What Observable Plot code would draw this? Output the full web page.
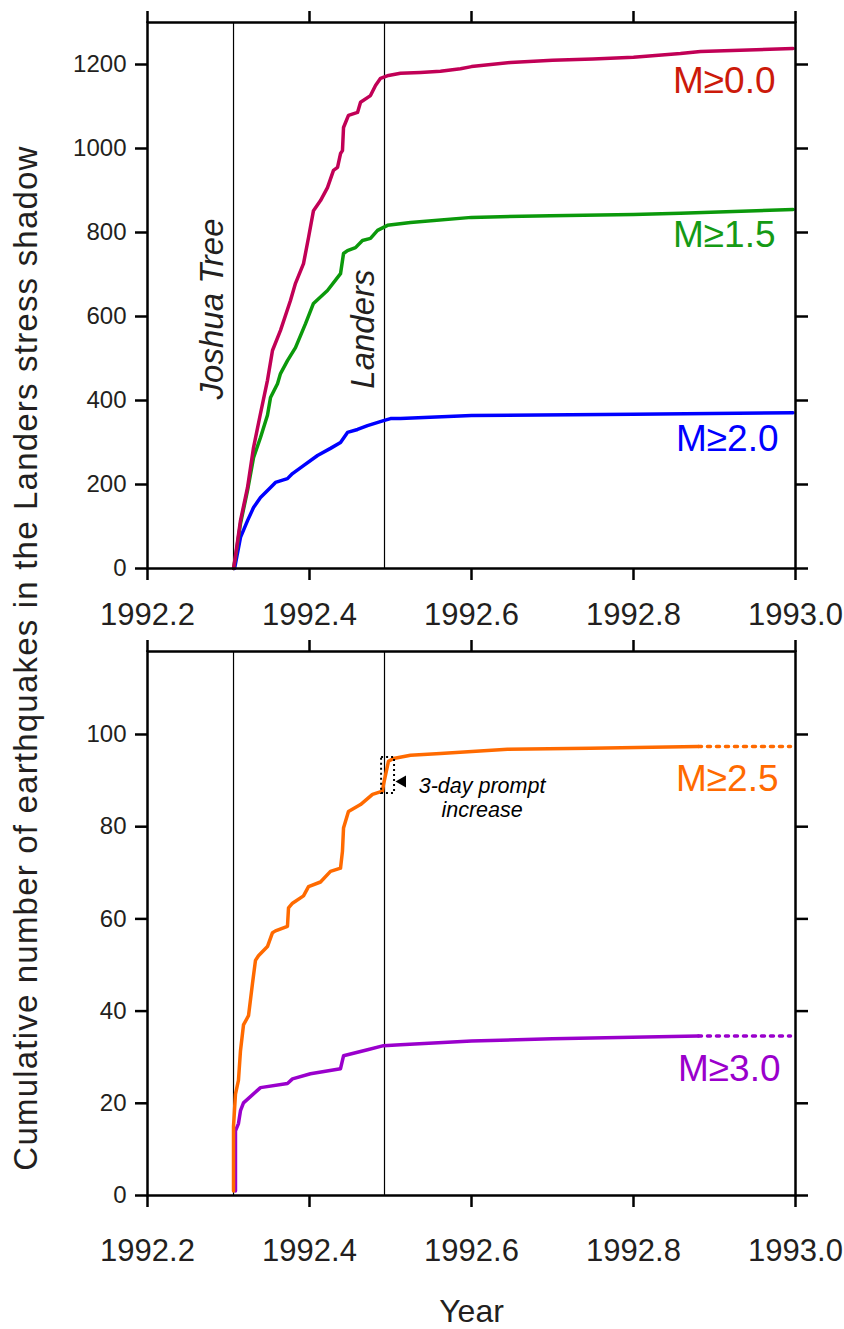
<!DOCTYPE html>
<html><head><meta charset="utf-8">
<script src="https://cdn.jsdelivr.net/npm/d3@7"></script>
<script src="https://cdn.jsdelivr.net/npm/@observablehq/plot@0.6"></script>
<style>
body{margin:0;background:#fff;font-family:"Liberation Sans",Arial,Helvetica,sans-serif;}
#wrap{position:relative;width:844px;height:1329px;overflow:hidden;}
#p1,#p2{display:block;}
#ylab{position:absolute;left:-524px;top:642px;width:1100px;height:32px;line-height:32px;font-size:33px;letter-spacing:1.2px;text-align:center;color:#231f20;transform:rotate(-90deg);white-space:nowrap;}
</style></head><body>
<div id="wrap"><div id="p1"></div><div id="p2"></div><div id="ylab">Cumulative number of earthquakes in the Landers stress shadow</div></div>
<script>
// ---- data ----
const xTicks = [1992.2, 1992.4, 1992.6, 1992.8, 1993.0];
const yTicksTop = [0, 200, 400, 600, 800, 1000, 1200];
const yTicksBottom = [0, 20, 40, 60, 80, 100];
const joshuaTree = 1992.3062;
const landers = 1992.4926;
const events = [joshuaTree, landers];
const eventNames = ["Joshua Tree", "Landers"];
const eventLabelY = [618, 570];

const m00 = [[1992.3062,0],[1992.3086,30],[1992.3148,114],[1992.3235,193],[1992.3309,288],[1992.3395,369],[1992.3481,448],[1992.3543,519],[1992.3642,567],[1992.3765,638],[1992.3827,679],[1992.3926,726],[1992.3988,788],[1992.4049,852],[1992.4136,876],[1992.4222,907],[1992.4296,948],[1992.4346,955],[1992.4383,988],[1992.4407,995],[1992.4420,1050],[1992.4481,1079],[1992.4593,1086],[1992.4630,1110],[1992.4753,1126],[1992.4815,1150],[1992.4877,1167],[1992.4975,1174],[1992.5123,1179],[1992.5370,1181],[1992.5617,1184],[1992.5864,1190],[1992.6,1195],[1992.6481,1205],[1992.7,1210],[1992.75,1213],[1992.8,1217],[1992.858,1226],[1992.8827,1231],[1992.997,1238]];
const m15 = [[1992.3062,0],[1992.3086,26],[1992.3148,107],[1992.3235,186],[1992.3309,264],[1992.3395,312],[1992.3481,365],[1992.3519,407],[1992.3605,440],[1992.3642,464],[1992.3728,495],[1992.3827,526],[1992.3951,583],[1992.4049,631],[1992.4222,662],[1992.4383,702],[1992.4420,750],[1992.4469,757],[1992.4568,764],[1992.4654,781],[1992.4753,786],[1992.4840,805],[1992.4963,817],[1992.5247,824],[1992.6,836],[1992.6975,840],[1992.8,843],[1992.858,846],[1992.997,855]];
const m20 = [[1992.3075,0],[1992.3148,74],[1992.3235,114],[1992.3309,145],[1992.3395,169],[1992.3519,193],[1992.3580,205],[1992.3728,214],[1992.3790,226],[1992.3926,245],[1992.4099,269],[1992.4259,286],[1992.4383,300],[1992.4469,324],[1992.4593,331],[1992.4716,340],[1992.4914,352],[1992.5000,357],[1992.5123,357],[1992.6,364],[1992.8,367],[1992.997,371]];
const m25 = [[1992.3062,1],[1992.3062,15],[1992.3086,22],[1992.3123,25],[1992.3148,31.4],[1992.3185,37],[1992.3247,39],[1992.3296,46],[1992.3333,51],[1992.3370,52],[1992.3481,54],[1992.3543,57],[1992.3580,57.4],[1992.3728,58.4],[1992.3741,62.4],[1992.3790,63.4],[1992.3926,65],[1992.3988,67],[1992.4136,68],[1992.4259,70.3],[1992.4383,71],[1992.4407,74.7],[1992.4420,79.7],[1992.4481,83.3],[1992.4630,84.8],[1992.4778,87],[1992.4901,87.7],[1992.4914,89.2],[1992.4975,94.2],[1992.5037,94.8],[1992.5247,95.5],[1992.5617,95.9],[1992.6444,96.8],[1992.7469,97],[1992.8802,97.4]];
const m30 = [[1992.3086,1],[1992.3086,14],[1992.3123,15.6],[1992.3148,18.4],[1992.3185,20.1],[1992.3395,23.4],[1992.3728,24.3],[1992.3790,25.3],[1992.4012,26.4],[1992.4383,27.5],[1992.4420,30.3],[1992.4716,31.6],[1992.4914,32.5],[1992.5123,32.7],[1992.6,33.5],[1992.7,34],[1992.8802,34.6]];
const extensionEnd = 1992.9938;
const promptBox = {t0: 1992.489, t1: 1992.505, n0: 87.2, n1: 95.0};
const promptArrow = {t: 1992.5148, n: 89.8};
const promptText = {t: 1992.613, n: 91.0, text: "3-day prompt\nincrease"};

const FONT = '"Liberation Sans", Arial, Helvetica, sans-serif';
const INK = "#231f20";
const fmt = d3.format(".1f");
const fmtInt = d3.format("d");

function axes(yTicks, padBottom) {
  return [
    Plot.axisX({anchor: "bottom", ticks: xTicks, tickSize: 12, tickPadding: padBottom, fontSize: 31, strokeWidth: 2.5, stroke: "black", tickFormat: fmt, label: null}),
    Plot.axisX({anchor: "top", ticks: xTicks, tickSize: 12, strokeWidth: 2.5, stroke: "black", tickFormat: () => "", label: null}),
    Plot.axisY({anchor: "left", ticks: yTicks, tickSize: 12, tickPadding: 9, fontSize: 24, strokeWidth: 2.5, stroke: "black", tickFormat: fmtInt, label: null}),
    Plot.axisY({anchor: "right", ticks: yTicks, tickSize: 12, strokeWidth: 2.5, stroke: "black", tickFormat: () => "", label: null}),
    Plot.frame({stroke: "black", strokeWidth: 2.5})
  ];
}

function label(series, text, fill, dx, dy) {
  const last = series[series.length - 1];
  return Plot.text([last], {y: d => d[1], frameAnchor: "right", dx, dy, text: () => text, fill, fontSize: 37, textAnchor: "end", lineAnchor: "middle"});
}

const lineOpts = (stroke) => ({x: d => d[0], y: d => d[1], stroke, strokeWidth: 3.5, strokeLinejoin: "round", strokeLinecap: "round"});
const dotOpts = (stroke) => ({x: d => d[0], y: d => d[1], stroke, strokeWidth: 3.5, strokeDasharray: "3,6"});

const topPlot = Plot.plot({
  width: 844, height: 630,
  marginTop: 22, marginBottom: 62, marginLeft: 147, marginRight: 49,
  x: {domain: [1992.2, 1993.0]},
  y: {domain: [0, 1300]},
  style: {fontFamily: FONT, color: INK, background: "white", overflow: "visible"},
  marks: [
    Plot.ruleX(events, {stroke: "black", strokeWidth: 1.2}),
    Plot.line(m20, lineOpts("#0000ff")),
    Plot.line(m15, lineOpts("#0b990b")),
    Plot.line(m00, lineOpts("#c10056")),
    Plot.text(events.map((t, i) => ({t, n: eventLabelY[i], s: eventNames[i]})), {x: "t", y: "n", text: "s", rotate: -90, fontSize: 33, fontStyle: "italic", fill: INK, dx: -21.5, textAnchor: "middle", lineAnchor: "middle"}),
    label(m00, "M≥0.0", "#cc1a0a", -20, 33),
    label(m15, "M≥1.5", "#159a15", -20, 26),
    label(m20, "M≥2.0", "#0000ff", -17, 26),
    ...axes(yTicksTop, 22)
  ]
});

const ext = (series) => { const l = series[series.length - 1]; return [l, [extensionEnd, l[1]]]; };

const bottomPlot = Plot.plot({
  width: 844, height: 699,
  marginTop: 21, marginBottom: 134, marginLeft: 147, marginRight: 49,
  x: {domain: [1992.2, 1993.0]},
  y: {domain: [0, 118]},
  style: {fontFamily: FONT, color: INK, background: "white", overflow: "visible"},
  marks: [
    Plot.ruleX(events, {stroke: "black", strokeWidth: 1.2}),
    Plot.line(m30, lineOpts("#9a00cc")),
    Plot.line(ext(m30), dotOpts("#9a00cc")),
    Plot.line(m25, lineOpts("#ff6a00")),
    Plot.line(ext(m25), dotOpts("#ff6a00")),
    Plot.rect([promptBox], {x1: "t0", x2: "t1", y1: "n0", y2: "n1", fill: "none", stroke: "black", strokeWidth: 2, strokeDasharray: "2,3"}),
    Plot.dot([promptArrow], {x: "t", y: "n", symbol: "triangle", rotate: -90, r: 4.5, fill: "black", stroke: "none"}),
    Plot.text([promptText], {x: "t", y: "n", text: "text", fontSize: 21.5, fontStyle: "italic", fill: "black", textAnchor: "middle", lineAnchor: "top", lineHeight: 1.12}),
    label(m25, "M≥2.5", "#ff6a00", -17, 33),
    label(m30, "M≥3.0", "#9a00cc", -15, 33),
    Plot.text(["Year"], {frameAnchor: "bottom", dy: 116, text: d => d, fontSize: 32, fill: INK, lineAnchor: "middle"}),
    ...axes(yTicksBottom, 31)
  ]
});

document.getElementById("p1").appendChild(topPlot);
document.getElementById("p2").appendChild(bottomPlot);
topPlot.style.display = "block";
bottomPlot.style.display = "block";
</script>
</body></html>
